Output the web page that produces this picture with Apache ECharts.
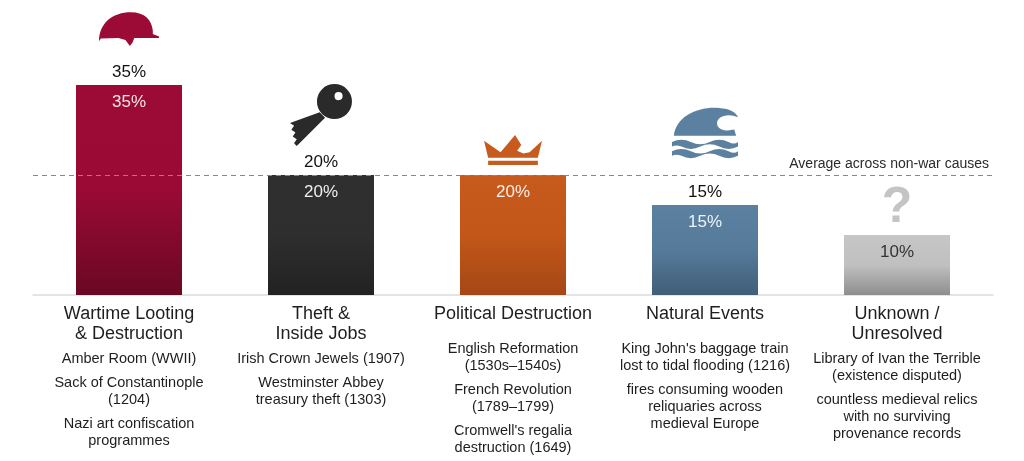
<!DOCTYPE html>
<html>
<head>
<meta charset="utf-8">
<script src="https://cdn.jsdelivr.net/npm/echarts@6/dist/echarts.min.js"></script>
<style>html,body{margin:0;padding:0;background:#fff}#c{width:1024px;height:461px}</style>
</head>
<body>
<div id="c"></div>
<script>
// 数据
const categories = ["Wartime Looting\n& Destruction", "Theft &\nInside Jobs", "Political Destruction", "Natural Events", "Unknown /\nUnresolved"];
const values = [35, 20, 20, 15, 10];
const topLabelShown = [true, true, false, true, false];
const examples = [
  ["Amber Room (WWII)", "Sack of Constantinople\n(1204)", "Nazi art confiscation\nprogrammes"],
  ["Irish Crown Jewels (1907)", "Westminster Abbey\ntreasury theft (1303)"],
  ["English Reformation\n(1530s\u20131540s)", "French Revolution\n(1789\u20131799)", "Cromwell's regalia\ndestruction (1649)"],
  ["King John's baggage train\nlost to tidal flooding (1216)", "fires consuming wooden\nreliquaries across\nmedieval Europe"],
  ["Library of Ivan the Terrible\n(existence disputed)", "countless medieval relics\nwith no surviving\nprovenance records"]
];
const averageValue = 20;
const averageLabel = "Average across non-war causes";

const colors = [
  ["#9c0b36", "#9a0a35", "#6a0823"],
  ["#2f2f2f", "#2e2e2e", "#222222"],
  ["#c75a1d", "#c25719", "#a64715"],
  ["#5b80a0", "#567b9a", "#3f5e78"],
  ["#c6c6c6", "#c0c0c0", "#8e8e8e"]
];
const insideColor = ["#f3e6ea", "#eeeeee", "#fbeee6", "#eef3f7", "#333333"];

const icons = [
  { path: "path://M0,44 C0,16 16,0 36,0 C52,0 60,12 61,28 L61,33 L68,37 L68,39 L40,39 L38,46 L35,51 L30,42 L22,39 L2,40 Z", size: [60, 45], off: [0, -56], color: "#9c0b36" },
  { path: "path://M74,2 A26,26 0 1,1 73.9,2 Z M80,14 A6,6 0 1,0 80.1,14 Z M52,44 L60,52 L18,94 L14,90 L18,84 L12,80 L16,74 L10,70 L14,64 L8,60 Z", size: [62, 62], off: [0, -60], color: "#2a2a2a" },
  { path: "path://M0,8 L16,24 L30,0 L36,14 L32,22 L38,26 L44,24 L56,8 L52,32 L4,32 Z M4,36 L52,36 L52,42 L4,42 Z", size: [58, 40], off: [0, -25], color: "#c75a1d" },
  { path: "path://M4,38 C6,14 28,0 52,2 C64,3 70,8 72,14 C62,8 48,12 50,24 C52,32 62,32 68,30 L70,38 Z M2,46 Q12,40 22,46 Q32,52 42,46 Q52,40 62,46 Q68,50 72,46 L72,52 Q62,58 52,52 Q42,46 32,52 Q22,58 12,52 Q6,49 2,52 Z M2,58 Q12,52 22,58 Q32,64 42,58 Q52,52 62,58 Q68,62 72,58 L72,64 Q62,70 52,64 Q42,58 32,64 Q22,70 12,64 Q6,61 2,64 Z", size: [66, 54], off: [0, -72], color: "#5b80a0" },
  null
];

const richBase = {
  t: { fontSize: 18, lineHeight: 20, color: "#1e1e1e" },
  e: { fontSize: 14.5, lineHeight: 17, color: "#1e1e1e" },
  s: { fontSize: 4, lineHeight: 6 },
  p: { fontSize: 4, lineHeight: 10 },
  g: { fontSize: 4, lineHeight: 7 }
};

function catLabel(v, i) {
  const lines = categories[i].split("\n");
  const t = lines.map(l => `{t|${l}}`).join("\n");
  const ex = examples[i].map(x => x.split("\n").map(l => `{e|${l}}`).join("\n")).join("\n{g|}\n");
  return t + (lines.length === 1 ? "\n{p|}" : "") + "\n{s|}\n" + ex;
}

const barData = values.map((v, i) => ({
  value: v,
  itemStyle: {
    color: new echarts.graphic.LinearGradient(0, 0, 0, 1, [
      { offset: 0, color: colors[i][0] },
      { offset: 0.5, color: colors[i][1] },
      { offset: 1, color: colors[i][2] }
    ])
  },
  label: { color: insideColor[i] }
}));

const topData = values.map((v, i) => topLabelShown[i] ? v : null);

const iconData = values.map((v, i) => icons[i] ? {
  value: v,
  symbol: icons[i].path,
  symbolSize: icons[i].size,
  symbolOffset: icons[i].off,
  itemStyle: { color: icons[i].color, opacity: 1 }
} : null);

const chart = echarts.init(document.getElementById("c"));
chart.setOption({
  animation: false,
  textStyle: { fontFamily: "Liberation Sans, Arial, sans-serif" },
  grid: { left: 33, right: 31, top: 55, bottom: 166 },
  xAxis: {
    type: "category",
    data: categories,
    axisTick: { show: false },
    axisLine: { lineStyle: { color: "#dcdcdc", width: 1.5 } },
    axisLabel: { interval: 0, margin: 9, formatter: catLabel, rich: richBase, lineHeight: 17 }
  },
  yAxis: { type: "value", min: 0, max: 40, show: false, splitLine: { show: false } },
  series: [
    {
      type: "bar",
      data: barData,
      barWidth: 106,
      z: 2,
      label: { show: true, position: "insideTop", distance: 9, fontSize: 17, formatter: "{c}%" },
      markLine: {
        silent: true,
        symbol: "none",
        lineStyle: { type: [5, 4], color: "#888", width: 1.2 },
        label: { position: "insideEndTop", formatter: averageLabel, fontSize: 14, color: "#2a2a2a", distance: 4 },
        data: [{ yAxis: averageValue }]
      }
    },
    {
      type: "scatter",
      data: topData,
      symbolSize: 0,
      z: 3,
      itemStyle: { opacity: 1 },
      label: { show: true, position: "top", distance: 4, fontSize: 17, color: "#111", formatter: "{c}%" }
    },
    {
      type: "scatter",
      data: iconData,
      symbolKeepAspect: true,
      z: 3
    },
    {
      type: "scatter",
      data: values.map((v, i) => i === 4 ? v : null),
      symbolSize: 0,
      z: 3,
      itemStyle: { opacity: 1 },
      label: { show: true, position: "top", distance: 2, fontSize: 50, fontWeight: "bold", color: "#c4c4c4", formatter: "?" }
    }
  ]
});
</script>
</body>
</html>
